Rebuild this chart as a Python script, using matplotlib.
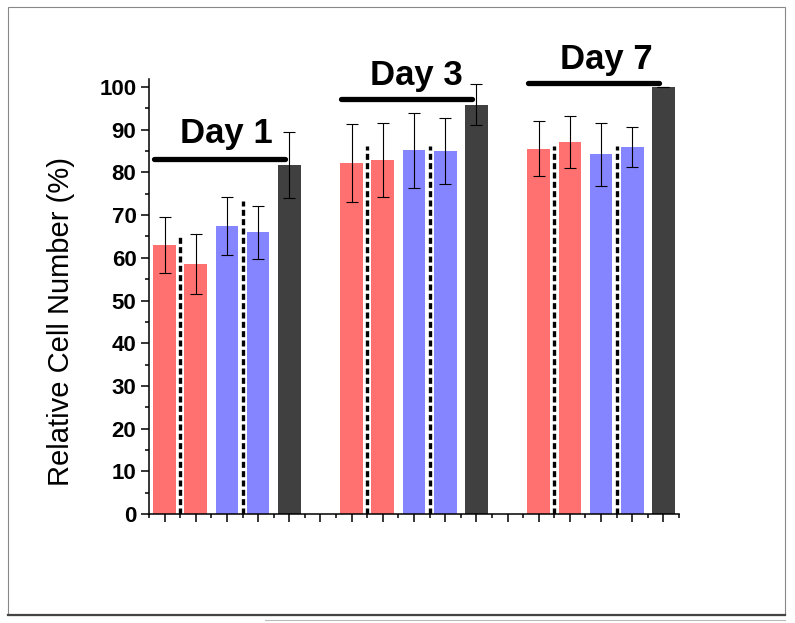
import matplotlib
matplotlib.use("Agg")
import matplotlib.pyplot as plt
from matplotlib.patches import Rectangle
from matplotlib.lines import Line2D

plt.rcParams['font.family'] = ['Liberation Sans', 'DejaVu Sans']

# data
days = ['Day 1', 'Day 3', 'Day 7']
means = [
    [63.0, 58.5, 67.5, 66.0, 81.8],
    [82.2, 82.9, 85.2, 85.0, 95.9],
    [85.6, 87.1, 84.2, 85.9, 100.0],
]
errs = [
    [6.5, 7.0, 6.8, 6.2, 7.7],
    [9.2, 8.7, 8.8, 7.8, 4.9],
    [6.5, 6.1, 7.4, 4.7, 0.0],
]
bar_colors = ['#ff7070', '#ff7070', '#8585ff', '#8585ff', '#404040']
dash_tops = [[64.8, 73.3], [86.3, 86.3], [86.3, 86.3]]
line_heights = [83.1, 97.1, 101.0]
label_heights = [86.8, 100.5, 104.2]

fig = plt.figure(figsize=(7.95, 6.23), dpi=100)
ax = fig.add_axes([149 / 795, 1 - 514 / 623, 530 / 795, (514 - 78.5) / 623])

for g, day in enumerate(days):
    start = 1 + 6 * g
    xs = [start + i for i in range(5)]
    ax.bar(xs, means[g], width=0.73, color=bar_colors, zorder=2)
    ax.errorbar(xs, means[g], yerr=errs[g], fmt='none', ecolor='black',
                elinewidth=0.8, capsize=4, capthick=0.8, zorder=3)
    for j, top in enumerate(dash_tops[g]):
        ax.plot([start + 0.5 + 2 * j] * 2, [0, top], color='black', lw=2.4,
                linestyle=(0, (1.8, 1.0)), zorder=3)
    ax.plot([start - 0.34, start + 3.87], [line_heights[g]] * 2, color='black',
            lw=3.8, solid_capstyle='round', clip_on=False, zorder=4)
    ax.text(start + 1.97 + 0.1 * g, label_heights[g], day, ha='center',
            va='baseline', fontsize=25, fontweight='bold', clip_on=False)

ax.set_xlim(0.5, 17.5)
ax.set_ylim(0, 102)
ax.set_xticks(range(1, 18))
ax.set_xticks([i + 0.5 for i in range(0, 18)], minor=True)
ax.set_yticks(range(0, 101, 10))
ax.set_yticks(range(5, 101, 10), minor=True)
ax.tick_params(axis='x', which='major', length=6, width=1.1, labelbottom=False)
ax.tick_params(axis='x', which='minor', length=3, width=1.1)
ax.tick_params(axis='y', which='major', length=6, width=1.1, labelsize=16, pad=3)
ax.tick_params(axis='y', which='minor', length=3, width=1.1)
for lab in ax.get_yticklabels():
    lab.set_fontweight('bold')
for side in ['top', 'right']:
    ax.spines[side].set_visible(False)
for side in ['left', 'bottom']:
    ax.spines[side].set_linewidth(1.1)

ax.set_ylabel('Relative Cell Number (%)', fontsize=21)
ax.yaxis.set_label_coords(-0.14, 0.443)

# outer frame of the picture
fig.add_artist(Rectangle((8 / 795, 1 - 615 / 623), 777 / 795, 608 / 623,
                         transform=fig.transFigure, fill=False, ec='#888888', lw=0.8))
fig.add_artist(Line2D([8 / 795, 785 / 795], [1 - 615 / 623] * 2,
                      transform=fig.transFigure, color='#444444', lw=1.6))
fig.add_artist(Line2D([265 / 795, 785 / 795], [1 - 620 / 623] * 2,
                      transform=fig.transFigure, color='#bbbbbb', lw=0.8))

fig.savefig('out.png', dpi=100)
